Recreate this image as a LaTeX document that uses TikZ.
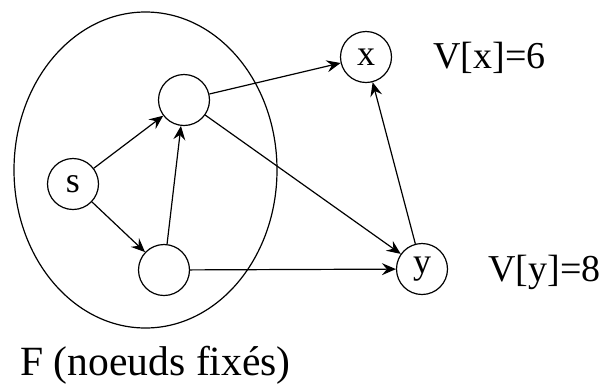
\documentclass[tikz,border=0pt]{standalone}
\usepackage{fontspec}
\setmainfont{Liberation Serif}
\usetikzlibrary{arrows.meta}
\begin{document}
\begin{tikzpicture}[x=0.5pt,y=-0.5pt,
  vertex/.style={draw,circle,minimum size=25.5pt,inner sep=0pt,line width=0.6pt,font=\fontsize{18}{20}\selectfont},
  edge/.style={line width=0.6pt,-{Stealth[length=7pt,width=6pt,inset=2.5pt]}},
  lbl/.style={anchor=west,inner sep=0pt,font=\fontsize{19}{22}\selectfont}]
\useasboundingbox (0,0) rectangle (600,387);
\draw[line width=0.6pt] (145.5,170) ellipse [x radius=131.5, y radius=158];
\node[vertex] (s) at (73,184) {s};
\node[vertex] (a) at (184,100) {};
\node[vertex] (b) at (164,270) {};
\node[vertex] (x) at (366,57) {x};
\node[vertex] (y) at (422,269) {y};
\node[lbl] (vx) at (433,58) {V[x]=6};
\node[lbl] (vy) at (488,272) {V[y]=8};
\node[lbl,font=\fontsize{20.8}{24}\selectfont] (f) at (20,365) {F (noeuds fixés)};
\draw[edge] (s) -- (a);
\draw[edge] (s) -- (b);
\draw[edge] (b) -- (a);
\draw[edge] (a) -- (x);
\draw[edge] (a) -- (y);
\draw[edge] (b) -- (y);
\draw[edge] (y) -- (x);
\end{tikzpicture}
\end{document}
